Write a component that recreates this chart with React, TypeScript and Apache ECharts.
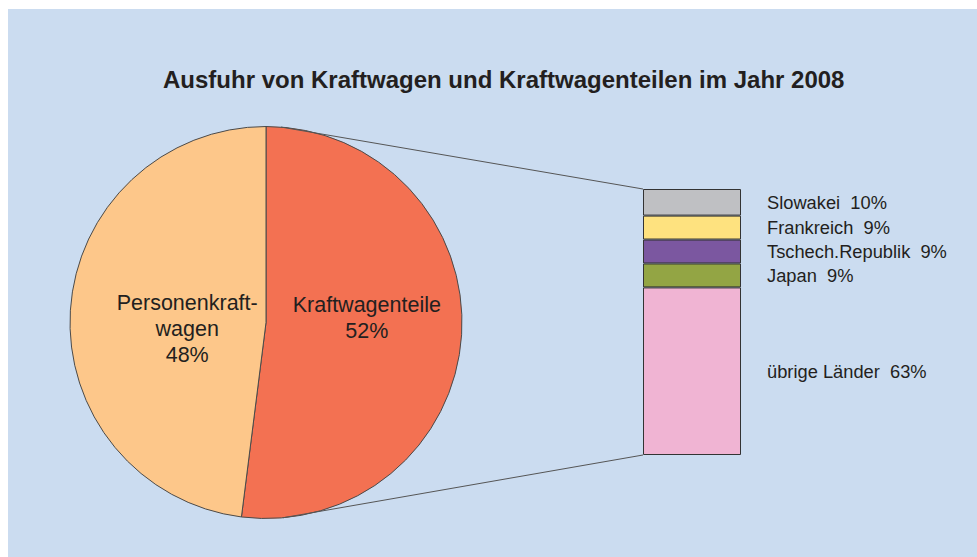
import React, { useEffect, useRef } from "react";
import * as echarts from "echarts";

const titleText = "Ausfuhr von Kraftwagen und Kraftwagenteilen im Jahr 2008";
const pieNames = ["Kraftwagenteile", "Personenkraftwagen"];
const pieLabels = ["Kraftwagenteile\n52%", "Personenkraft-\nwagen\n48%"];
const pieValues = [52, 48];
const pieColors = ["#f37152", "#fdc78a"];

const barNames = ["Slowakei", "Frankreich", "Tschech.Republik", "Japan", "übrige Länder"];
const barValues = [10, 9, 9, 9, 63];
const barColors = ["#bfc0c3", "#fee27f", "#7b57a0", "#93a544", "#f0b4d3"];

const CX = 258;
const CY = 313.5;
const R = 196;
const GL = 635;
const GT = 180;
const GW = 98;
const GH = 266;

export default function App() {
  const ref = useRef<HTMLDivElement>(null);
  useEffect(() => {
    if (!ref.current) return;
    const chart = echarts.init(ref.current, undefined, { renderer: "svg" });
    const rad = (d: number) => (d * Math.PI) / 180;
    const topPt = [CX + R * Math.sin(rad(4.4)), CY - R * Math.cos(rad(4.4))];
    const botPt = [CX + R * Math.sin(rad(5)), CY + R * Math.cos(rad(5))];
    const labelShift = [
      { dx: 0, dy: -11 },
      { dx: 22, dy: 13 },
    ];
    chart.setOption({
      animation: false,
      backgroundColor: "#cbdcf0",
      textStyle: { fontFamily: "Liberation Sans, Arial, sans-serif" },
      title: {
        text: titleText,
        left: 150,
        top: 53,
        textStyle: { fontSize: 24, fontWeight: "bold", color: "#231f20", fontFamily: "Liberation Sans, Arial, sans-serif" },
      },
      grid: { left: GL, top: GT, width: GW, height: GH },
      xAxis: { type: "category", data: ["x"], show: false },
      yAxis: { type: "value", min: 0, max: 100, inverse: true, show: false },
      series: [
        {
          type: "pie",
          center: [CX, CY],
          radius: R,
          startAngle: 90,
          clockwise: true,
          data: pieNames.map((n, i) => ({
            name: n,
            value: pieValues[i],
            itemStyle: { color: pieColors[i] },
            label: { formatter: pieLabels[i] },
          })),
          itemStyle: { borderColor: "#4a4a4a", borderWidth: 1 },
          label: {
            show: true,
            position: "inside",
            fontSize: 21.5,
            lineHeight: 26,
            color: "#231f20",
            align: "center",
          },
          labelLine: { show: false },
          labelLayout: (p: any) => labelShift[p.dataIndex],
          emphasis: { disabled: true },
        },
        ...barNames.map((n, i) => ({
          type: "bar",
          name: n,
          stack: "s",
          barWidth: GW,
          data: [barValues[i]],
          itemStyle: { color: barColors[i], borderColor: "#333", borderWidth: 1 },
          label: {
            show: true,
            position: "right",
            distance: 26,
            formatter: `${n}  ${barValues[i]}%`,
            fontSize: 18.3,
            color: "#231f20",
          },
          emphasis: { disabled: true },
        })),
      ],
      graphic: [
        {
          type: "line",
          shape: { x1: topPt[0], y1: topPt[1], x2: GL, y2: GT },
          style: { stroke: "#555", lineWidth: 1 },
          z: 10,
        },
        {
          type: "line",
          shape: { x1: botPt[0], y1: botPt[1], x2: GL, y2: GT + GH },
          style: { stroke: "#555", lineWidth: 1 },
          z: 10,
        },
      ],
    });
    return () => chart.dispose();
  }, []);
  return (
    <div
      ref={ref}
      style={{ position: "fixed", left: 8, top: 9, width: 969, height: 548 }}
    />
  );
}
